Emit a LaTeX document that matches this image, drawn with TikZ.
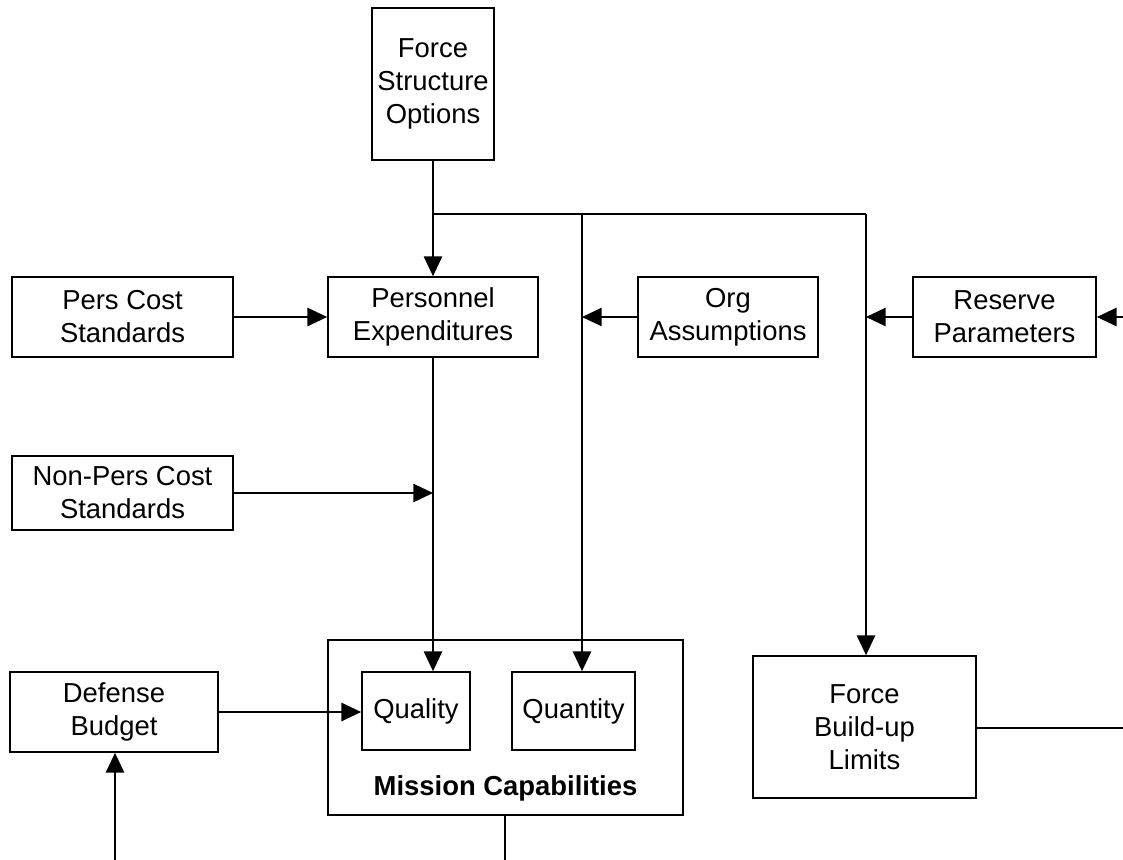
\documentclass[tikz,border=0pt]{standalone}
\usepackage{fontspec}
\setmainfont{Liberation Sans}
\usetikzlibrary{arrows.meta}
\begin{document}
\begin{tikzpicture}[x=0.025cm,y=-0.025cm,
  box/.style={draw,line width=1.2pt,align=center,inner sep=0pt,font=\fontsize{19.5}{23.5}\selectfont},
  conn/.style={line width=1.2pt},
  arr/.style={conn,-{Triangle[length=14pt,width=13pt]}}]
\useasboundingbox (0,0) rectangle (1123,860);
\node[box,minimum width=122*0.025cm,minimum height=152*0.025cm] (fso) at (433,84) {Force\\Structure\\Options};
\node[box,minimum width=221*0.025cm,minimum height=80*0.025cm] (pcs) at (122.5,317) {Pers Cost\\Standards};
\node[box,minimum width=210*0.025cm,minimum height=80*0.025cm] (pe) at (433,317) {Personnel\\Expenditures};
\node[box,minimum width=180*0.025cm,minimum height=80*0.025cm] (org) at (728,317) {Org\\Assumptions};
\node[box,minimum width=183*0.025cm,minimum height=80*0.025cm] (rp) at (1004.5,317) {Reserve\\Parameters};
\node[box,minimum width=221*0.025cm,minimum height=74*0.025cm] (npcs) at (122.5,493) {Non-Pers Cost\\Standards};
\node[box,minimum width=355*0.025cm,minimum height=175*0.025cm] (mc) at (505.5,727.5) {};
\node[box,minimum width=108*0.025cm,minimum height=78*0.025cm] (qual) at (416,711) {Quality};
\node[box,minimum width=123*0.025cm,minimum height=78*0.025cm] (quan) at (573.5,711) {Quantity};
\node[font=\fontsize{19.5}{23.5}\selectfont\bfseries] (mct) at (505.5,788) {Mission Capabilities};
\node[box,minimum width=208*0.025cm,minimum height=80*0.025cm] (db) at (114,712) {Defense\\Budget};
\node[box,minimum width=223*0.025cm,minimum height=142*0.025cm] (fbl) at (864.5,727) {Force\\Build-up\\Limits};
\coordinate (j0) at (433,214);
\coordinate (j1) at (582,214);
\coordinate (j2) at (866,214);
\coordinate (rin) at (1123,317);
\coordinate (fout) at (1123,728);
\coordinate (b1) at (115,860);
\coordinate (b2) at (505,860);
\draw[conn] (fso.south) -- (j0) -- (j2);
\draw[arr] (j0) -- (pe.north);
\draw[arr] (j1) -- (j1 |- quan.north);
\draw[arr] (j2) -- (fbl.north -| j2);
\draw[arr] (pcs.east) -- (pe.west);
\draw[arr] (org.west) -- (org.west -| j1);
\draw[arr] (rp.west) -- (rp.west -| j2);
\draw[arr] (rin) -- (rp.east);
\draw[arr] (pe.south) -- (pe.south |- qual.north);
\draw[arr] (npcs.east) -- (npcs.east -| pe.south);
\draw[arr] (db.east) -- (db.east -| qual.west);
\draw[conn] (fbl.east |- fout) -- (fout);
\draw[arr] (b1) -- (b1 |- db.south);
\draw[conn] (mc.south -| b2) -- (b2);
\end{tikzpicture}
\end{document}
